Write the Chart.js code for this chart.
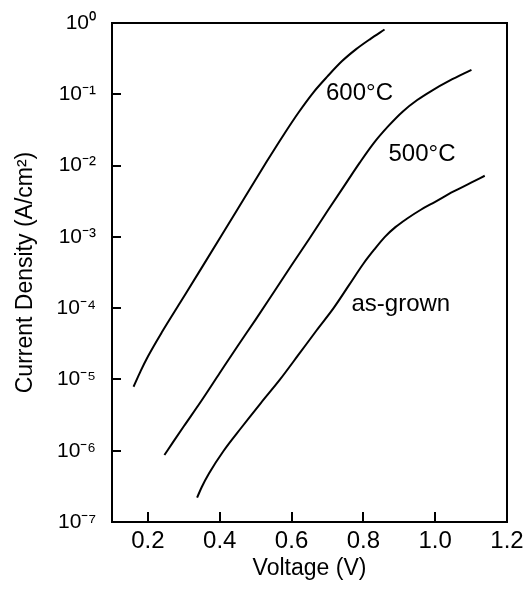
<!DOCTYPE html>
<html>
<head>
<meta charset="utf-8">
<script src="https://cdn.jsdelivr.net/npm/chart.js@4/dist/chart.umd.min.js"></script>
<style>
  html, body { margin: 0; padding: 0; background: #fff; }
  #wrap { width: 532px; height: 595px; }
</style>
</head>
<body>
<div id="wrap"><canvas id="c" width="532" height="595"></canvas></div>
<script>
// ---- data ----
const seriesNames = ['600°C', '500°C', 'as-grown'];

const voltage600 = [0.160, 0.180, 0.200, 0.240, 0.290, 0.350, 0.410, 0.470, 0.530, 0.580, 0.620, 0.660, 0.700, 0.740, 0.780, 0.820, 0.859];
const current600 = [7.9e-6, 1.32e-5, 2.1e-5, 4.7e-5, 1.2e-4, 3.7e-4, 1.15e-3, 3.6e-3, 1.12e-2, 2.8e-2, 5.6e-2, 0.105, 0.178, 0.29, 0.43, 0.60, 0.81];

const voltage500 = [0.246, 0.270, 0.300, 0.350, 0.400, 0.450, 0.500, 0.550, 0.600, 0.650, 0.700, 0.750, 0.790, 0.830, 0.870, 0.910, 0.950, 0.990, 1.040, 1.101];
const current500 = [8.7e-7, 1.32e-6, 2.2e-6, 5.1e-6, 1.23e-5, 2.95e-5, 6.9e-5, 1.66e-4, 4.0e-4, 9.5e-4, 2.3e-3, 5.5e-3, 1.1e-2, 2.1e-2, 3.6e-2, 5.75e-2, 8.3e-2, 0.112, 0.155, 0.22];

const voltageAsGrown = [0.337, 0.350, 0.370, 0.411, 0.460, 0.515, 0.568, 0.620, 0.670, 0.717, 0.760, 0.800, 0.830, 0.860, 0.890, 0.920, 0.960, 1.000, 1.050, 1.100, 1.138];
const currentAsGrown = [2.2e-7, 3.1e-7, 4.8e-7, 1.0e-6, 2.1e-6, 4.7e-6, 1.0e-5, 2.24e-5, 4.9e-5, 1.0e-4, 2.1e-4, 4.2e-4, 6.6e-4, 1.0e-3, 1.38e-3, 1.78e-3, 2.4e-3, 3.1e-3, 4.3e-3, 5.75e-3, 7.2e-3];

const xTicks = [0.2, 0.4, 0.6, 0.8, 1.0, 1.2];
const yTicks = [1e-7, 1e-6, 1e-5, 1e-4, 1e-3, 1e-2, 1e-1, 1];
const yTickLabels = ['10⁻⁷', '10⁻⁶', '10⁻⁵', '10⁻⁴', '10⁻³', '10⁻²', '10⁻¹', '10⁰'];

// curve annotations (left x, baseline y in data units)
const labelX = [0.696, 0.870, 0.767];
const labelY = [0.084, 0.0117, 9.1e-5];

const xTitle = 'Voltage (V)';
const yTitle = 'Current Density (A/cm²)';

// ---- chart ----
const FONT = '"Liberation Sans", Arial, Helvetica, sans-serif';

function pts(xs, ys) { return xs.map((x, i) => ({ x: x, y: ys[i] })); }

const datasets = [
  { label: seriesNames[0], data: pts(voltage600, current600) },
  { label: seriesNames[1], data: pts(voltage500, current500) },
  { label: seriesNames[2], data: pts(voltageAsGrown, currentAsGrown) }
].map(d => Object.assign(d, {
  showLine: true, borderColor: '#000', borderWidth: 2, pointRadius: 0,
  cubicInterpolationMode: 'monotone', fill: false
}));

// frame + inward major ticks, positioned through the chart's scales
const framePlugin = {
  id: 'frame',
  afterDraw(chart) {
    const { ctx, chartArea: a, scales } = chart;
    ctx.save();
    ctx.strokeStyle = '#000';
    ctx.lineWidth = 2;
    ctx.strokeRect(a.left, a.top, a.right - a.left, a.bottom - a.top);
    for (const v of xTicks) {
      const px = Math.round(scales.x.getPixelForValue(v));
      ctx.beginPath();
      ctx.moveTo(px, a.bottom);
      ctx.lineTo(px, a.bottom - 10);
      ctx.stroke();
    }
    for (const v of yTicks) {
      const py = Math.round(scales.y.getPixelForValue(v));
      ctx.beginPath();
      ctx.moveTo(a.left, py);
      ctx.lineTo(a.left + 9, py);
      ctx.stroke();
    }
    ctx.restore();
  }
};

const labelPlugin = {
  id: 'curveLabels',
  afterDatasetsDraw(chart) {
    const { ctx, scales } = chart;
    ctx.save();
    ctx.fillStyle = '#000';
    ctx.font = '24px ' + FONT;
    ctx.textAlign = 'left';
    ctx.textBaseline = 'alphabetic';
    seriesNames.forEach((t, i) => {
      ctx.fillText(t, scales.x.getPixelForValue(labelX[i]), scales.y.getPixelForValue(labelY[i]));
    });
    ctx.restore();
  }
};

new Chart(document.getElementById('c'), {
  type: 'scatter',
  data: { datasets },
  options: {
    responsive: false,
    animation: false,
    events: [],
    layout: { padding: { left: 0, top: 23, right: 25, bottom: 0 } },
    plugins: { legend: { display: false }, tooltip: { enabled: false } },
    scales: {
      x: {
        type: 'linear', min: 0.1, max: 1.2,
        afterBuildTicks(s) { s.ticks = xTicks.map(v => ({ value: v })); },
        afterFit(s) { s.height = 73; s.paddingLeft = 0; s.paddingRight = 0; },
        grid: { display: false, drawTicks: false },
        border: { display: false },
        ticks: {
          color: '#000', font: { family: FONT, size: 24 }, padding: 5, maxRotation: 0,
          callback: v => v.toFixed(1)
        },
        title: { display: true, text: xTitle, color: '#000', font: { family: FONT, size: 23 }, padding: { top: 0, bottom: 13 } }
      },
      y: {
        type: 'logarithmic', min: 1e-7, max: 1,
        afterBuildTicks(s) { s.ticks = yTicks.map(v => ({ value: v })); },
        afterFit(s) { s.width = 112; s.paddingTop = 0; s.paddingBottom = 0; },
        grid: { display: false, drawTicks: false },
        border: { display: false },
        ticks: {
          color: '#000', font: { family: FONT, size: 21 }, padding: 16,
          callback: (v) => { const i = yTicks.findIndex(t => Math.abs(Math.log10(t) - Math.log10(v)) < 1e-6); return i >= 0 ? yTickLabels[i] : ''; }
        },
        title: { display: true, text: yTitle, color: '#000', font: { family: FONT, size: 23 }, padding: { top: 12, bottom: 0 } }
      }
    }
  },
  plugins: [framePlugin, labelPlugin]
});
</script>
</body>
</html>
